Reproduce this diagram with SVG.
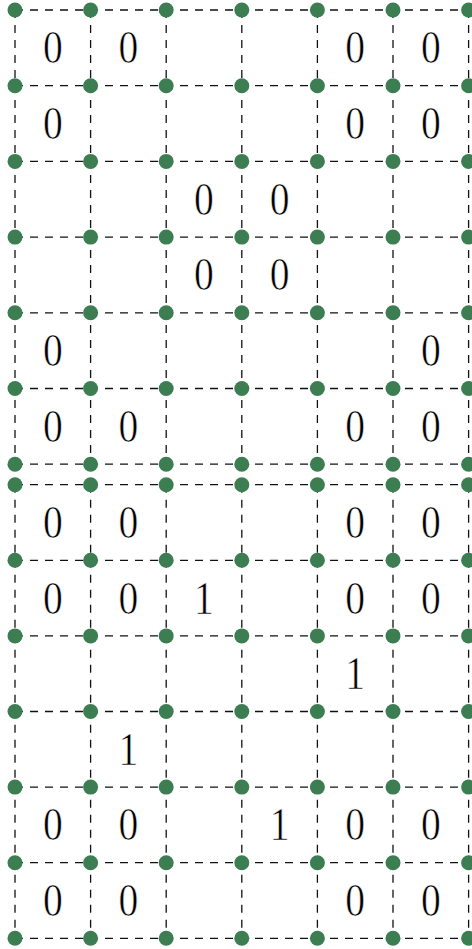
<svg xmlns="http://www.w3.org/2000/svg" width="472" height="949" viewBox="0 0 472 949">
<style>
.ln{fill:none;stroke:#111;stroke-width:1.3;stroke-dasharray:8 7}
.dt{fill:#3d7d52}
.t text{font-family:"Liberation Serif","DejaVu Serif",serif;font-size:46px;fill:#000;text-anchor:middle;stroke:#fff;stroke-width:0.6;transform-box:fill-box;transform-origin:center;transform:scaleX(0.86)}
</style>
<rect width="472" height="949" fill="#fff"/>
<g id="connectors">
<path class="ln" d="M15 10H468.6M15 85.7H468.6M15 161.4H468.6M15 237.1H468.6M15 312.8H468.6M15 388.5H468.6M15 464.2H468.6"/>
<path class="ln" d="M15 10V464.2M90.6 10V464.2M166.2 10V464.2M241.8 10V464.2M317.4 10V464.2M393 10V464.2M468.6 10V464.2"/>
<path class="ln" d="M15 484.7H468.6M15 560.3H468.6M15 635.9H468.6M15 711.5H468.6M15 787.1H468.6M15 862.7H468.6M15 938.3H468.6"/>
<path class="ln" d="M15 484.7V938.3M90.6 484.7V938.3M166.2 484.7V938.3M241.8 484.7V938.3M317.4 484.7V938.3M393 484.7V938.3M468.6 484.7V938.3"/>
</g>
<defs>
<g id="row"><circle class="dt" cx="15" cy="0" r="7.5"/><circle class="dt" cx="90.6" cy="0" r="7.5"/><circle class="dt" cx="166.2" cy="0" r="7.5"/><circle class="dt" cx="241.8" cy="0" r="7.5"/><circle class="dt" cx="317.4" cy="0" r="7.5"/><circle class="dt" cx="393" cy="0" r="7.5"/><circle class="dt" cx="468.6" cy="0" r="7.5"/></g>
</defs>
<g id="dots-top">
<use href="#row" y="10"/><use href="#row" y="85.7"/><use href="#row" y="161.4"/><use href="#row" y="237.1"/><use href="#row" y="312.8"/><use href="#row" y="388.5"/><use href="#row" y="464.2"/>
</g>
<g id="dots-bottom">
<use href="#row" y="484.7"/><use href="#row" y="560.3"/><use href="#row" y="635.9"/><use href="#row" y="711.5"/><use href="#row" y="787.1"/><use href="#row" y="862.7"/><use href="#row" y="938.3"/>
</g>
<g id="labels-top" class="t">
<text x="52.8" y="63.4">0</text><text x="128.4" y="63.4">0</text><text x="355.2" y="63.4">0</text><text x="430.8" y="63.4">0</text>
<text x="52.8" y="139.1">0</text><text x="355.2" y="139.1">0</text><text x="430.8" y="139.1">0</text>
<text x="204" y="214.8">0</text><text x="279.6" y="214.8">0</text>
<text x="204" y="290.5">0</text><text x="279.6" y="290.5">0</text>
<text x="52.8" y="366.2">0</text><text x="430.8" y="366.2">0</text>
<text x="52.8" y="441.9">0</text><text x="128.4" y="441.9">0</text><text x="355.2" y="441.9">0</text><text x="430.8" y="441.9">0</text>
</g>
<g id="labels-bottom" class="t">
<text x="52.8" y="538">0</text><text x="128.4" y="538">0</text><text x="355.2" y="538">0</text><text x="430.8" y="538">0</text>
<text x="52.8" y="613.6">0</text><text x="128.4" y="613.6">0</text><text x="204" y="613.6">1</text><text x="355.2" y="613.6">0</text><text x="430.8" y="613.6">0</text>
<text x="355.2" y="689.2">1</text>
<text x="128.4" y="764.8">1</text>
<text x="52.8" y="840.4">0</text><text x="128.4" y="840.4">0</text><text x="279.6" y="840.4">1</text><text x="355.2" y="840.4">0</text><text x="430.8" y="840.4">0</text>
<text x="52.8" y="916">0</text><text x="128.4" y="916">0</text><text x="355.2" y="916">0</text><text x="430.8" y="916">0</text>
</g>
</svg>
